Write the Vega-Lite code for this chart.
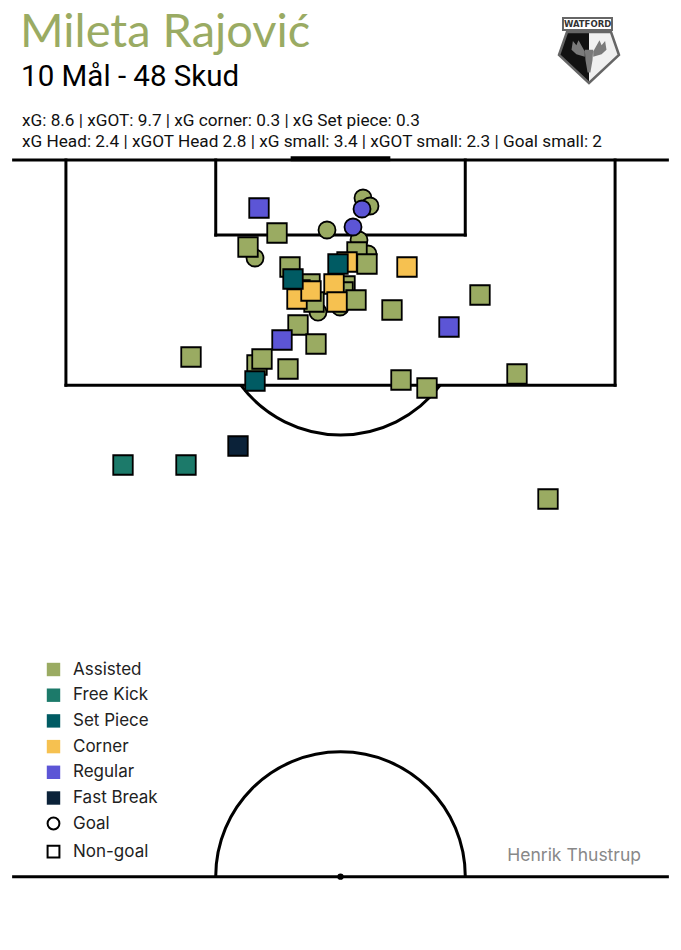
{
  "$schema": "https://vega.github.io/schema/vega-lite/v6.json",
  "width": 681,
  "height": 950,
  "autosize": {"type": "none"},
  "padding": 0,
  "background": "white",
  "config": {"view": {"stroke": null}},
  "datasets": {
    "shots": [
      {"situation": "Assisted", "outcome": "Goal", "x": 1.652, "y": 2.784},
      {"situation": "Assisted", "outcome": "Goal", "x": 2.166, "y": 3.370},
      {"situation": "Assisted", "outcome": "Goal", "x": -0.991, "y": 5.128},
      {"situation": "Assisted", "outcome": "Goal", "x": 1.358, "y": 5.861},
      {"situation": "Assisted", "outcome": "Goal", "x": -6.278, "y": 7.179},
      {"situation": "Assisted", "outcome": "Goal", "x": 2.019, "y": 6.886},
      {"situation": "Assisted", "outcome": "Goal", "x": -1.652, "y": 11.136},
      {"situation": "Assisted", "outcome": "Goal", "x": -0.037, "y": 10.769},
      {"situation": "Regular", "outcome": "Goal", "x": 1.579, "y": 3.590},
      {"situation": "Regular", "outcome": "Goal", "x": 0.918, "y": 4.908},
      {"situation": "Assisted", "outcome": "Non-goal", "x": -4.662, "y": 5.348},
      {"situation": "Assisted", "outcome": "Non-goal", "x": -6.791, "y": 6.374},
      {"situation": "Assisted", "outcome": "Non-goal", "x": 1.211, "y": 6.740},
      {"situation": "Assisted", "outcome": "Non-goal", "x": 1.946, "y": 7.619},
      {"situation": "Assisted", "outcome": "Non-goal", "x": -3.708, "y": 7.839},
      {"situation": "Assisted", "outcome": "Non-goal", "x": -2.239, "y": 9.084},
      {"situation": "Assisted", "outcome": "Non-goal", "x": -2.974, "y": 9.524},
      {"situation": "Assisted", "outcome": "Non-goal", "x": -1.946, "y": 10.403},
      {"situation": "Assisted", "outcome": "Non-goal", "x": 0.330, "y": 9.231},
      {"situation": "Assisted", "outcome": "Non-goal", "x": 0.184, "y": 9.670},
      {"situation": "Assisted", "outcome": "Non-goal", "x": 1.138, "y": 10.256},
      {"situation": "Assisted", "outcome": "Non-goal", "x": 10.242, "y": 9.890},
      {"situation": "Assisted", "outcome": "Non-goal", "x": 3.781, "y": 10.989},
      {"situation": "Assisted", "outcome": "Non-goal", "x": -3.120, "y": 12.088},
      {"situation": "Assisted", "outcome": "Non-goal", "x": -1.799, "y": 13.480},
      {"situation": "Assisted", "outcome": "Non-goal", "x": -10.976, "y": 14.432},
      {"situation": "Assisted", "outcome": "Non-goal", "x": -6.131, "y": 15.018},
      {"situation": "Assisted", "outcome": "Non-goal", "x": -5.764, "y": 14.579},
      {"situation": "Assisted", "outcome": "Non-goal", "x": -3.855, "y": 15.311},
      {"situation": "Assisted", "outcome": "Non-goal", "x": 4.442, "y": 16.117},
      {"situation": "Assisted", "outcome": "Non-goal", "x": 6.351, "y": 16.703},
      {"situation": "Assisted", "outcome": "Non-goal", "x": 12.959, "y": 15.678},
      {"situation": "Assisted", "outcome": "Non-goal", "x": 15.235, "y": 24.835},
      {"situation": "Corner", "outcome": "Non-goal", "x": -3.194, "y": 10.183},
      {"situation": "Corner", "outcome": "Non-goal", "x": -2.166, "y": 9.597},
      {"situation": "Corner", "outcome": "Non-goal", "x": 0.477, "y": 7.473},
      {"situation": "Corner", "outcome": "Non-goal", "x": 4.883, "y": 7.839},
      {"situation": "Corner", "outcome": "Non-goal", "x": -0.477, "y": 9.084},
      {"situation": "Corner", "outcome": "Non-goal", "x": -0.257, "y": 10.403},
      {"situation": "Set Piece", "outcome": "Non-goal", "x": -0.184, "y": 7.619},
      {"situation": "Set Piece", "outcome": "Non-goal", "x": -3.488, "y": 8.718},
      {"situation": "Set Piece", "outcome": "Non-goal", "x": -6.278, "y": 16.190},
      {"situation": "Regular", "outcome": "Non-goal", "x": -5.984, "y": 3.516},
      {"situation": "Regular", "outcome": "Non-goal", "x": 7.966, "y": 12.234},
      {"situation": "Regular", "outcome": "Non-goal", "x": -4.295, "y": 13.187},
      {"situation": "Fast Break", "outcome": "Non-goal", "x": -7.526, "y": 20.952},
      {"situation": "Free Kick", "outcome": "Non-goal", "x": -15.969, "y": 22.344},
      {"situation": "Free Kick", "outcome": "Non-goal", "x": -11.344, "y": 22.344}
    ]
  },
  "layer": [
    {
      "data": {"values": [
        {"x1": -24, "y1": 0, "x2": 24, "y2": 0},
        {"x1": -24, "y1": 52.5, "x2": 24, "y2": 52.5},
        {"x1": -20.16, "y1": 0, "x2": -20.16, "y2": 16.5},
        {"x1": 20.16, "y1": 0, "x2": 20.16, "y2": 16.5},
        {"x1": -20.16, "y1": 16.5, "x2": 20.16, "y2": 16.5},
        {"x1": -9.16, "y1": 0, "x2": -9.16, "y2": 5.5},
        {"x1": 9.16, "y1": 0, "x2": 9.16, "y2": 5.5},
        {"x1": -9.16, "y1": 5.5, "x2": 9.16, "y2": 5.5}
      ]},
      "mark": {"type": "rule", "color": "black", "strokeWidth": 3, "strokeCap": "square"},
      "encoding": {
        "x": {"field": "x1", "type": "quantitative", "scale": {"domain": [-25, 25], "nice": false, "zero": false}, "axis": null},
        "y": {"field": "y1", "type": "quantitative", "scale": {"domain": [-11.722, 57.875], "nice": false, "zero": false, "reverse": true}, "axis": null},
        "x2": {"field": "x2"},
        "y2": {"field": "y2"}
      }
    },
    {
      "data": {"values": [{"x1": -3.66, "y1": -0.1, "x2": 3.66, "y2": -0.1}]},
      "mark": {"type": "rule", "color": "black", "strokeWidth": 5},
      "encoding": {
        "x": {"field": "x1", "type": "quantitative", "scale": {"domain": [-25, 25], "nice": false, "zero": false}, "axis": null},
        "y": {"field": "y1", "type": "quantitative", "scale": {"domain": [-11.722, 57.875], "nice": false, "zero": false, "reverse": true}, "axis": null},
        "x2": {"field": "x2"},
        "y2": {"field": "y2"}
      }
    },
    {
      "data": {"values": [{"x": 0, "y": 11}]},
      "mark": {"type": "point", "shape": "M -0.799 0.601 A 1 1 0 0 0 0.799 0.601", "size": 62300, "filled": false, "stroke": "black", "strokeWidth": 3, "opacity": 1},
      "encoding": {
        "x": {"field": "x", "type": "quantitative", "scale": {"domain": [-25, 25], "nice": false, "zero": false}, "axis": null},
        "y": {"field": "y", "type": "quantitative", "scale": {"domain": [-11.722, 57.875], "nice": false, "zero": false, "reverse": true}, "axis": null}
      }
    },
    {
      "data": {"values": [{"x": 0, "y": 52.5}]},
      "mark": {"type": "point", "shape": "M -1 0 A 1 1 0 0 1 1 0", "size": 62300, "filled": false, "stroke": "black", "strokeWidth": 3, "opacity": 1},
      "encoding": {
        "x": {"field": "x", "type": "quantitative", "scale": {"domain": [-25, 25], "nice": false, "zero": false}, "axis": null},
        "y": {"field": "y", "type": "quantitative", "scale": {"domain": [-11.722, 57.875], "nice": false, "zero": false, "reverse": true}, "axis": null}
      }
    },
    {
      "data": {"values": [{"x": 0, "y": 52.5}]},
      "mark": {"type": "point", "shape": "circle", "size": 40, "filled": true, "color": "black", "opacity": 1},
      "encoding": {
        "x": {"field": "x", "type": "quantitative", "scale": {"domain": [-25, 25], "nice": false, "zero": false}, "axis": null},
        "y": {"field": "y", "type": "quantitative", "scale": {"domain": [-11.722, 57.875], "nice": false, "zero": false, "reverse": true}, "axis": null}
      }
    },
    {
      "data": {"name": "shots"},
      "transform": [{"filter": "datum.outcome === 'Goal'"}],
      "mark": {"type": "point", "filled": true, "opacity": 1, "stroke": "black", "strokeWidth": 1.8, "size": 290},
      "encoding": {
        "x": {"field": "x", "type": "quantitative", "scale": {"domain": [-25, 25], "nice": false, "zero": false}, "axis": null},
        "y": {"field": "y", "type": "quantitative", "scale": {"domain": [-11.722, 57.875], "nice": false, "zero": false, "reverse": true}, "axis": null},
        "color": {
          "field": "situation", "type": "nominal",
          "scale": {"domain": ["Assisted", "Free Kick", "Set Piece", "Corner", "Regular", "Fast Break"], "range": ["#9aab62", "#1c7a6a", "#005b63", "#f6c150", "#5c55d6", "#0b2239"]},
          "legend": {"title": null, "orient": "none", "legendX": 45, "legendY": 661, "symbolType": "square", "symbolSize": 180, "symbolStrokeWidth": 0, "symbolStrokeColor": "transparent", "labelFont": "Inter", "labelFontSize": 17, "labelColor": "#222", "rowPadding": 7.7, "labelOffset": 11, "padding": 0}
        },
        "shape": {
          "field": "outcome", "type": "nominal",
          "scale": {"domain": ["Goal", "Non-goal"], "range": ["circle", "square"]},
          "legend": {"title": null, "orient": "none", "legendX": 45, "legendY": 815, "symbolSize": 140, "symbolFillColor": "white", "symbolStrokeColor": "black", "symbolStrokeWidth": 2, "labelFont": "Inter", "labelFontSize": 17, "labelColor": "#222", "rowPadding": 7.2, "labelOffset": 11, "padding": 0}
        }
      }
    },
    {
      "data": {"name": "shots"},
      "transform": [{"filter": "datum.outcome === 'Non-goal'"}],
      "mark": {"type": "point", "filled": true, "opacity": 1, "stroke": "black", "strokeWidth": 1.8, "size": 380},
      "encoding": {
        "x": {"field": "x", "type": "quantitative", "scale": {"domain": [-25, 25], "nice": false, "zero": false}, "axis": null},
        "y": {"field": "y", "type": "quantitative", "scale": {"domain": [-11.722, 57.875], "nice": false, "zero": false, "reverse": true}, "axis": null},
        "color": {
          "field": "situation", "type": "nominal",
          "scale": {"domain": ["Assisted", "Free Kick", "Set Piece", "Corner", "Regular", "Fast Break"], "range": ["#9aab62", "#1c7a6a", "#005b63", "#f6c150", "#5c55d6", "#0b2239"]},
          "legend": {"title": null, "orient": "none", "legendX": 45, "legendY": 661, "symbolType": "square", "symbolSize": 180, "symbolStrokeWidth": 0, "symbolStrokeColor": "transparent", "labelFont": "Inter", "labelFontSize": 17, "labelColor": "#222", "rowPadding": 7.7, "labelOffset": 11, "padding": 0}
        },
        "shape": {
          "field": "outcome", "type": "nominal",
          "scale": {"domain": ["Goal", "Non-goal"], "range": ["circle", "square"]},
          "legend": {"title": null, "orient": "none", "legendX": 45, "legendY": 815, "symbolSize": 140, "symbolFillColor": "white", "symbolStrokeColor": "black", "symbolStrokeWidth": 2, "labelFont": "Inter", "labelFontSize": 17, "labelColor": "#222", "rowPadding": 7.2, "labelOffset": 11, "padding": 0}
        }
      }
    },
    {
      "data": {"values": [{"label": "Mileta Rajović"}]},
      "mark": {"type": "text", "font": "Lato", "fontSize": 47, "color": "#9aab63", "align": "left", "baseline": "alphabetic"},
      "encoding": {
        "x": {"datum": -23.53, "type": "quantitative", "scale": {"domain": [-25, 25], "nice": false, "zero": false}, "axis": null},
        "y": {"datum": -8.3, "type": "quantitative", "scale": {"domain": [-11.722, 57.875], "nice": false, "zero": false, "reverse": true}, "axis": null},
        "text": {"field": "label"}
      }
    },
    {
      "data": {"values": [{"label": "10 Mål - 48 Skud"}]},
      "mark": {"type": "text", "font": "Roboto", "fontSize": 29.5, "color": "#000", "align": "left", "baseline": "alphabetic"},
      "encoding": {
        "x": {"datum": -23.45, "type": "quantitative", "scale": {"domain": [-25, 25], "nice": false, "zero": false}, "axis": null},
        "y": {"datum": -5.421, "type": "quantitative", "scale": {"domain": [-11.722, 57.875], "nice": false, "zero": false, "reverse": true}, "axis": null},
        "text": {"field": "label"}
      }
    },
    {
      "data": {"values": [{"label": "xG: 8.6 | xGOT: 9.7 | xG corner: 0.3 | xG Set piece: 0.3"}]},
      "mark": {"type": "text", "font": "Roboto", "fontSize": 17.2, "color": "#111", "align": "left", "baseline": "alphabetic"},
      "encoding": {
        "x": {"datum": -23.385, "type": "quantitative", "scale": {"domain": [-25, 25], "nice": false, "zero": false}, "axis": null},
        "y": {"datum": -2.49, "type": "quantitative", "scale": {"domain": [-11.722, 57.875], "nice": false, "zero": false, "reverse": true}, "axis": null},
        "text": {"field": "label"}
      }
    },
    {
      "data": {"values": [{"label": "xG Head: 2.4 | xGOT Head 2.8 | xG small: 3.4 | xGOT small: 2.3 | Goal small: 2"}]},
      "mark": {"type": "text", "font": "Roboto", "fontSize": 17.2, "color": "#111", "align": "left", "baseline": "alphabetic"},
      "encoding": {
        "x": {"datum": -23.385, "type": "quantitative", "scale": {"domain": [-25, 25], "nice": false, "zero": false}, "axis": null},
        "y": {"datum": -0.93, "type": "quantitative", "scale": {"domain": [-11.722, 57.875], "nice": false, "zero": false, "reverse": true}, "axis": null},
        "text": {"field": "label"}
      }
    },
    {
      "data": {"values": [{"label": "Henrik Thustrup"}]},
      "mark": {"type": "text", "font": "Inter", "fontSize": 17.5, "color": "#888", "align": "right", "baseline": "alphabetic"},
      "encoding": {
        "x": {"datum": 22.063, "type": "quantitative", "scale": {"domain": [-25, 25], "nice": false, "zero": false}, "axis": null},
        "y": {"datum": 51.355, "type": "quantitative", "scale": {"domain": [-11.722, 57.875], "nice": false, "zero": false, "reverse": true}, "axis": null},
        "text": {"field": "label"}
      }
    },
    {
      "data": {"values": [{"part": "crest-left"}]},
      "mark": {"type": "point", "shape": "M -0.629 -0.657 L 0 -0.657 L 0 0.8 L -0.857 0 Z", "size": 4900, "filled": true, "color": "#111", "opacity": 1, "strokeWidth": 0},
      "encoding": {
        "x": {"datum": 18.245, "type": "quantitative", "scale": {"domain": [-25, 25], "nice": false, "zero": false}, "axis": null},
        "y": {"datum": -7.692, "type": "quantitative", "scale": {"domain": [-11.722, 57.875], "nice": false, "zero": false, "reverse": true}, "axis": null}
      }
    },
    {
      "data": {"values": [{"part": "crest-right"}]},
      "mark": {"type": "point", "shape": "M 0 -0.657 L 0.629 -0.657 L 0.857 0 L 0 0.8 Z", "size": 4900, "filled": true, "color": "#f0f0f0", "opacity": 1, "strokeWidth": 0},
      "encoding": {
        "x": {"datum": 18.245, "type": "quantitative", "scale": {"domain": [-25, 25], "nice": false, "zero": false}, "axis": null},
        "y": {"datum": -7.692, "type": "quantitative", "scale": {"domain": [-11.722, 57.875], "nice": false, "zero": false, "reverse": true}, "axis": null}
      }
    },
    {
      "data": {"values": [{"part": "crest-moose"}]},
      "mark": {"type": "point", "shape": "M -0.12 -0.15 L 0.12 -0.15 L 0.1 0.15 L 0.04 0.5 L -0.04 0.5 L -0.1 0.15 Z M -0.12 -0.1 L -0.3 -0.42 L -0.36 -0.28 L -0.46 -0.4 L -0.5 -0.15 L -0.36 -0.02 L -0.12 0.05 Z M 0.12 -0.1 L 0.3 -0.42 L 0.36 -0.28 L 0.46 -0.4 L 0.5 -0.15 L 0.36 -0.02 L 0.12 0.05 Z", "size": 4900, "filled": true, "color": "#7a7a7a", "opacity": 1, "strokeWidth": 0},
      "encoding": {
        "x": {"datum": 18.245, "type": "quantitative", "scale": {"domain": [-25, 25], "nice": false, "zero": false}, "axis": null},
        "y": {"datum": -7.692, "type": "quantitative", "scale": {"domain": [-11.722, 57.875], "nice": false, "zero": false, "reverse": true}, "axis": null}
      }
    },
    {
      "data": {"values": [{"part": "crest-outline"}]},
      "mark": {"type": "point", "shape": "M -0.629 -0.657 L 0.629 -0.657 L 0.857 0 L 0 0.8 L -0.857 0 Z", "size": 4900, "filled": false, "stroke": "#666", "strokeWidth": 2.5, "opacity": 1},
      "encoding": {
        "x": {"datum": 18.245, "type": "quantitative", "scale": {"domain": [-25, 25], "nice": false, "zero": false}, "axis": null},
        "y": {"datum": -7.692, "type": "quantitative", "scale": {"domain": [-11.722, 57.875], "nice": false, "zero": false, "reverse": true}, "axis": null}
      }
    },
    {
      "data": {"values": [{"part": "crest-box"}]},
      "mark": {"type": "point", "shape": "M -0.743 -1.057 L 0.657 -1.057 L 0.657 -0.714 L -0.743 -0.714 Z", "size": 4900, "filled": true, "fill": "white", "stroke": "#666", "strokeWidth": 2, "opacity": 1},
      "encoding": {
        "x": {"datum": 18.245, "type": "quantitative", "scale": {"domain": [-25, 25], "nice": false, "zero": false}, "axis": null},
        "y": {"datum": -7.692, "type": "quantitative", "scale": {"domain": [-11.722, 57.875], "nice": false, "zero": false, "reverse": true}, "axis": null}
      }
    },
    {
      "data": {"values": [{"label": "WATFORD"}]},
      "mark": {"type": "text", "font": "DejaVu Sans", "fontSize": 8.5, "fontWeight": "bold", "color": "#333", "align": "center", "baseline": "middle"},
      "encoding": {
        "x": {"datum": 18.14, "type": "quantitative", "scale": {"domain": [-25, 25], "nice": false, "zero": false}, "axis": null},
        "y": {"datum": -9.963, "type": "quantitative", "scale": {"domain": [-11.722, 57.875], "nice": false, "zero": false, "reverse": true}, "axis": null},
        "text": {"field": "label"}
      }
    }
  ]
}
